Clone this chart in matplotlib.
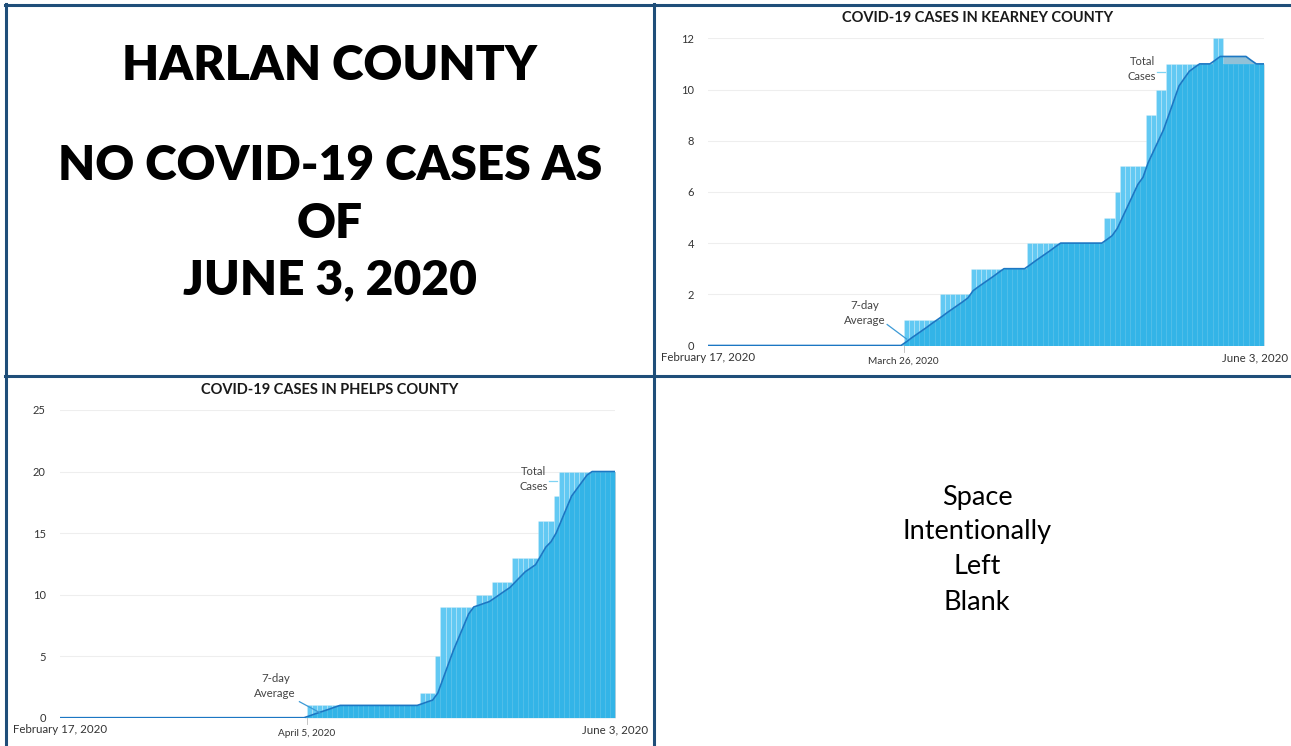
import numpy as np
import matplotlib
matplotlib.use("Agg")
import matplotlib.pyplot as plt
from matplotlib.lines import Line2D
from matplotlib.patches import Polygon
from matplotlib.transforms import blended_transform_factory

# days counted from February 17, 2020 (day 0) to June 3, 2020 (day 107)
n_days = 108

kearney_total = ([0] * 38 + [1] * 7 + [2] * 6 + [3] * 11 + [4] * 15 + [5] * 2 + [6]
                 + [7] * 5 + [9] * 2 + [10] * 2 + [11] * 9 + [12] * 2 + [11] * 8)
kearney_avg = ([0] * 38
               + [0.14, 0.29, 0.43, 0.57, 0.71, 0.86, 1.00]
               + [1.14, 1.29, 1.43, 1.57, 1.71, 1.86]
               + [2.14, 2.29, 2.43, 2.57, 2.71, 2.86]
               + [3.00] * 5
               + [3.14, 3.29, 3.43, 3.57, 3.71, 3.86]
               + [4.00] * 9
               + [4.14, 4.29, 4.57, 5.00, 5.43, 5.86, 6.29, 6.57, 7.14, 7.57, 8.00, 8.43,
                  9.00, 9.57, 10.14, 10.43, 10.71, 10.86]
               + [11.00] * 3 + [11.14] + [11.29] * 6 + [11.14, 11.00, 11.00])

phelps_total = ([0] * 48 + [1] * 22 + [2] * 3 + [5] + [9] * 7 + [10] * 3 + [11] * 4
                + [13] * 5 + [16] * 3 + [18] + [20] * 11)
phelps_avg = ([0] * 48
              + [0.14, 0.29, 0.43, 0.57, 0.71, 0.86]
              + [1.00] * 16
              + [1.14, 1.29, 1.43]
              + [2.00, 3.14, 4.29, 5.43, 6.43, 7.43, 8.43]
              + [9.00, 9.14, 9.29, 9.43, 9.71, 10.00, 10.29, 10.57]
              + [11.00, 11.43, 11.86, 12.14, 12.43, 13.14, 13.86, 14.29]
              + [15.00, 16.00, 17.00, 18.00, 18.57, 19.14, 19.71]
              + [20.00] * 5)

kearney_ticks = [0, 2, 4, 6, 8, 10, 12]
phelps_ticks = [0, 5, 10, 15, 20, 25]

W, H = 1291, 746
BAR = "#62c9f3"
AREA = "#2fb3e6"
AREA_OVER = "#92c1d7"
LINE = "#1c77c3"
BORDER = "#1f4e79"
FONT = "Lato"

fig = plt.figure(figsize=(W / 100, H / 100), dpi=100)


def px_box(x0, y0, x1, y1):
    # pixel box (top-left origin) -> figure fraction rect
    return [x0 / W, 1 - y1 / H, (x1 - x0) / W, (y1 - y0) / H]


def county_chart(rect, total, avg, yticks, title, title_xy, mid_day, mid_label,
                 avg_text, avg_arrow, tot_text, tot_line, end_x=None):
    ax = fig.add_axes(rect)
    days = np.arange(n_days)
    xs = np.r_[0, days + 0.5, n_days]
    ys = np.r_[avg[0], avg, avg[-1]]

    # part of the average area that rises above the bars (shows greyish)
    ax.fill_between(xs, 0, ys, color=AREA_OVER, linewidth=0, zorder=1.5)
    ax.bar(days, total, width=1, align="edge", color=BAR, edgecolor=(1, 1, 1, 0.22),
           linewidth=0.4, zorder=2)
    # the average area over the bars, clipped to the bar outline
    step_x = np.r_[0, np.repeat(np.arange(1, n_days), 2), n_days]
    step_y = np.repeat(total, 2)
    outline = Polygon(np.c_[np.r_[0, step_x, n_days], np.r_[0, step_y, 0]],
                      closed=True, transform=ax.transData, facecolor="none",
                      edgecolor="none")
    ax.add_patch(outline)
    area = ax.fill_between(xs, 0, ys, color=AREA, alpha=0.92, linewidth=0, zorder=3)
    area.set_clip_path(outline)
    ax.bar(days, total, width=1, align="edge", color="none", edgecolor=(1, 1, 1, 0.12),
           linewidth=0.4, zorder=4)
    ax.plot(xs, ys, color=LINE, lw=1.2, zorder=5)
    ax.set_xlim(0, n_days)
    ax.set_ylim(0, yticks[-1])
    ax.set_yticks(yticks)
    ax.set_yticklabels([str(t) for t in yticks], fontsize=8, color="#333333", family=FONT)
    ax.tick_params(axis="y", length=0, pad=10)
    ax.set_xticks([])
    ax.grid(axis="y", color="#eeeeee", lw=0.8, zorder=0)
    ax.set_axisbelow(True)
    for s in ax.spines.values():
        s.set_visible(False)

    tr = blended_transform_factory(ax.transData, ax.transAxes)
    ax.text(0, -0.022, "February 17, 2020", transform=tr, ha="center", va="top",
            fontsize=8.3, color="#333333", family=FONT, clip_on=False)
    if end_x is None:
        ax.text(n_days, -0.022, "June 3, 2020", transform=tr, ha="center", va="top",
                fontsize=8.3, color="#333333", family=FONT, clip_on=False)
    else:
        # keep the label inside the picture edge
        fig.text(end_x / W, ax.get_position().y0 - 0.022 * ax.get_position().height,
                 "June 3, 2020", ha="right", va="top", fontsize=8.3, color="#333333",
                 family=FONT)
    ax.plot([mid_day, mid_day], [0, -0.02], transform=tr, color="#bbbbbb", lw=0.6,
            clip_on=False)
    ax.text(mid_day, -0.038, mid_label, transform=tr, ha="center", va="top",
            fontsize=7.2, color="#333333", family=FONT, clip_on=False)

    ax.text(avg_text[0], avg_text[1], "7-day\nAverage", ha="center", va="center",
            fontsize=8.3, color="#444444", family=FONT, linespacing=1.45, zorder=6)
    ax.plot(avg_arrow[0], avg_arrow[1], color="#3d9ad6", lw=0.9, zorder=6)
    ax.text(tot_text[0], tot_text[1], "Total\nCases", ha="center", va="center",
            fontsize=8.0, color="#444444", family=FONT, linespacing=1.45, zorder=6)
    ax.plot(tot_line[0], tot_line[1], color="#7fd3f3", lw=0.9, zorder=6)

    fig.text(title_xy[0] / W, 1 - title_xy[1] / H, title, ha="center", va="center",
             fontsize=10.5, fontweight="bold", color="#1a1a1a", family=FONT)
    return ax


county_chart(px_box(708, 38.3, 1264, 345.5), kearney_total, kearney_avg, kearney_ticks,
             "COVID-19 CASES IN KEARNEY COUNTY", (978, 18), 38, "March 26, 2020",
             (30.5, 1.27), ([34.8, 38.6], [0.82, 0.25]),
             (84.3, 10.8), ([87.3, 88.8], [10.67, 10.67]), end_x=1288)

county_chart(px_box(59.7, 410, 615.3, 717.7), phelps_total, phelps_avg, phelps_ticks,
             "COVID-19 CASES IN PHELPS COUNTY", (330, 390), 48, "April 5, 2020",
             (41.9, 2.58), ([46.6, 50.6], [1.3, 0.4]),
             (92.1, 19.4), ([95.2, 96.7], [19.2, 19.2]))

# left column text
big = dict(ha="center", va="center", fontsize=34.5, fontweight="heavy", color="black",
           family=FONT)
for txt, y in [("HARLAN COUNTY", 66), ("NO COVID-19 CASES AS", 166), ("OF", 224),
               ("JUNE 3, 2020", 280)]:
    fig.text(330 / W, 1 - y / H, txt, **big)

for txt, y in [("Space", 497), ("Intentionally", 532), ("Left", 567), ("Blank", 602)]:
    fig.text(977 / W, 1 - y / H, txt, ha="center", va="center", fontsize=19.5,
             color="black", family=FONT)


# table borders
def hline(y, x0, x1):
    fig.add_artist(Line2D([x0 / W, x1 / W], [1 - y / H, 1 - y / H], color=BORDER, lw=2.2,
                          transform=fig.transFigure))


def vline(x, y0, y1):
    fig.add_artist(Line2D([x / W, x / W], [1 - y0 / H, 1 - y1 / H], color=BORDER, lw=2.2,
                          transform=fig.transFigure))


hline(4.5, 5, W)
hline(376.5, 5, W)
vline(5.5, 4, H)
vline(654, 4, H)

fig.savefig("out.png", dpi=100)
